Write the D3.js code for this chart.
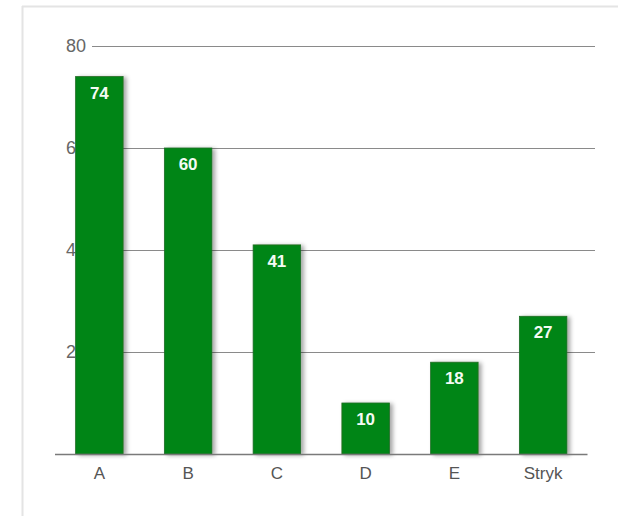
<!DOCTYPE html>
<html>
<head>
<meta charset="utf-8">
<script src="https://cdn.jsdelivr.net/npm/d3@7"></script>
<style>
  html, body { margin: 0; padding: 0; background: #fff; }
  svg { display: block; }
</style>
</head>
<body>
<svg id="chart" width="618" height="516"></svg>
<script>
// Category names, values and the y-axis tick values
const categories = ["A", "B", "C", "D", "E", "Stryk"];
const values = [74, 60, 41, 10, 18, 27];
const yTicks = [20, 40, 60, 80];

const svg = d3.select("#chart");
const W = 618, H = 516;

// Panel frame (top and left edges)
svg.append("line").attr("x1", 22).attr("x2", W).attr("y1", 6.5).attr("y2", 6.5)
  .attr("stroke", "#e4e4e4").attr("stroke-width", 2);
svg.append("line").attr("x1", 22.5).attr("x2", 22.5).attr("y1", 6).attr("y2", H)
  .attr("stroke", "#e4e4e4").attr("stroke-width", 2);

// Drop shadow for bars
const defs = svg.append("defs");
const f = defs.append("filter").attr("id", "shadow")
  .attr("x", "-20%").attr("y", "-10%").attr("width", "150%").attr("height", "130%");
f.append("feDropShadow").attr("dx", 3).attr("dy", 1).attr("stdDeviation", 2.2)
  .attr("flood-color", "#000").attr("flood-opacity", 0.35);

const x = d3.scaleBand().domain(categories).range([55, 587.5])
  .paddingInner(0.465).paddingOuter(0.2325);
const y = d3.scaleLinear().domain([0, 80]).range([454, 46]);

// Gridlines
svg.append("g").selectAll("line").data(yTicks).join("line")
  .attr("x1", 92).attr("x2", 595)
  .attr("y1", d => Math.round(y(d)) + 0.5).attr("y2", d => Math.round(y(d)) + 0.5)
  .attr("stroke", "#8a8a8a").attr("stroke-width", 1);

// Y tick labels
svg.append("g").selectAll("text").data(yTicks).join("text")
  .attr("x", 86).attr("y", d => y(d))
  .attr("dy", "0.35em")
  .attr("text-anchor", "end")
  .attr("font-family", "Liberation Sans, Arial, sans-serif")
  .attr("font-size", 18)
  .attr("fill", "#666")
  .text(d => d);

// Bars
svg.append("g").selectAll("rect").data(values).join("rect")
  .attr("x", (d, i) => x(categories[i]))
  .attr("y", d => y(d))
  .attr("width", x.bandwidth())
  .attr("height", d => y(0) - y(d))
  .attr("fill", "#038516")
  .attr("stroke", "#1f6b24")
  .attr("stroke-width", 0.8)
  .attr("filter", "url(#shadow)");

// Value labels inside bar tops
svg.append("g").selectAll("text").data(values).join("text")
  .attr("x", (d, i) => x(categories[i]) + x.bandwidth() / 2)
  .attr("y", d => y(d) + 22)
  .attr("text-anchor", "middle")
  .attr("font-family", "Liberation Sans, Arial, sans-serif")
  .attr("font-weight", "bold")
  .attr("font-size", 17)
  .attr("fill", "#f4fbf4")
  .text(d => d);

// Baseline
svg.append("line").attr("x1", 55).attr("x2", 587.5)
  .attr("y1", 454.5).attr("y2", 454.5)
  .attr("stroke", "#7a7a7a").attr("stroke-width", 1.3);

// Category labels
svg.append("g").selectAll("text").data(categories).join("text")
  .attr("x", d => x(d) + x.bandwidth() / 2)
  .attr("y", 479)
  .attr("text-anchor", "middle")
  .attr("font-family", "Liberation Sans, Arial, sans-serif")
  .attr("font-size", 17)
  .attr("fill", "#555")
  .text(d => d);
</script>
</body>
</html>
